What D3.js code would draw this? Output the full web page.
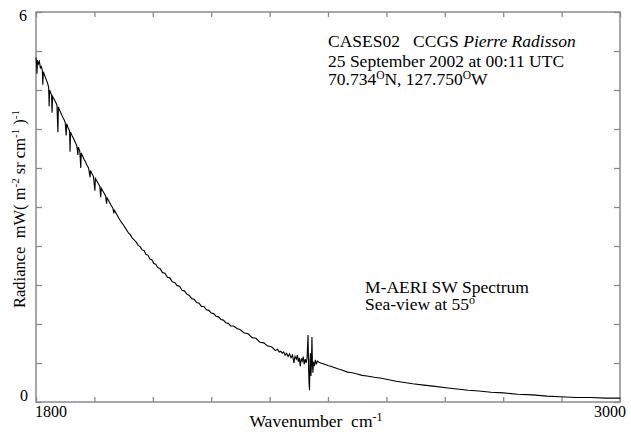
<!DOCTYPE html>
<html>
<head>
<meta charset="utf-8">
<script src="https://cdn.jsdelivr.net/npm/d3@7/dist/d3.min.js"></script>
<style>
  body { margin: 0; background: #fff; }
  text { font-family: "Liberation Serif", "Times New Roman", serif; fill: #000; white-space: pre; }
</style>
</head>
<body>
<div id="chart"></div>
<script>
// spectrum (wavenumber cm-1, radiance mW m-2 sr-1 (cm-1)-1)
var wavenumber = [
  1800,1801,1802,1803,1805,1807,1809,1811,1813,1814,1815,1818,1821,1824,1826,1827,1828,1830,1832,1833,
  1834,1837,1840,1843,1845,1846,1849,1852,1855,1858,1860,1862,1863,1866,1869,1870,1871,1874,1878,1881,
  1884,1886,1887,1890,1892,1893,1896,1899,1902,1905,1908,1911,1912,1915,1918,1921,1922,1925,1928,1931,
  1933,1934,1937,1940,1943,1945,1946,1950,1954,1958,1960,1961,1965,1970,1975,1980,1985,1990,1994,1998,
  2002,2006,2010,2014,2018,2022,2026,2030,2034,2038,2042,2046,2050,2055,2060,2065,2070,2075,2080,2085,
  2090,2095,2100,2105,2110,2115,2120,2125,2130,2135,2140,2145,2150,2155,2160,2165,2170,2175,2180,2185,
  2190,2195,2200,2206,2213,2220,2228,2236,2244,2252,2260,2268,2276,2284,2292,2296,2300,2303,2306,2309,
  2312,2315,2318,2321,2324,2327,2330,2332,2335,2337,2339,2341,2343,2345,2347,2349,2351,2353,2355,2357,
  2359,2360,2361,2362,2363,2364,2365,2366,2367,2368,2369,2370,2372,2374,2376,2378,2380,2385,2390,2400,
  2410,2420,2430,2440,2450,2460,2470,2480,2495,2507,2520,2540,2557,2574,2597,2620,2642,2665,2688,2710,
  2735,2760,2790,2820,2850,2877,2910,2940,2970,3000
];
var radiance = [
  5.30,5.22,5.05,5.26,5.20,5.24,5.14,5.16,5.10,4.88,5.08,5.02,4.96,4.90,4.84,4.55,4.80,4.76,4.72,4.45,
  4.70,4.66,4.62,4.57,4.15,4.54,4.48,4.43,4.38,4.34,4.30,4.10,4.28,4.22,4.17,3.85,4.15,4.10,4.04,3.99,
  3.94,3.80,3.92,3.86,3.60,3.83,3.78,3.73,3.69,3.64,3.60,3.46,3.56,3.51,3.47,3.25,3.44,3.40,3.36,3.32,
  3.15,3.29,3.25,3.21,3.17,3.05,3.14,3.09,3.03,2.98,2.90,2.95,2.90,2.83,2.77,2.72,2.66,2.60,2.57,2.52,
  2.49,2.46,2.41,2.39,2.34,2.33,2.27,2.26,2.20,2.19,2.13,2.12,2.07,2.05,1.99,1.98,1.92,1.91,1.85,1.84,
  1.79,1.78,1.72,1.71,1.66,1.64,1.59,1.58,1.53,1.52,1.47,1.47,1.42,1.41,1.37,1.36,1.32,1.31,1.27,1.26,
  1.22,1.21,1.17,1.17,1.13,1.11,1.06,1.05,0.99,0.98,0.92,0.91,0.86,0.85,0.79,0.81,0.77,0.78,0.75,0.77,
  0.72,0.75,0.70,0.74,0.68,0.72,0.60,0.70,0.66,0.72,0.62,0.68,0.55,0.67,0.63,0.70,0.58,0.66,0.60,0.68,
  1.03,0.55,0.30,0.18,0.65,0.75,0.40,0.62,1.00,0.58,0.45,0.62,0.55,0.65,0.58,0.63,0.62,0.60,0.59,0.56,
  0.54,0.51,0.49,0.46,0.45,0.43,0.41,0.40,0.38,0.37,0.35,0.32,0.30,0.28,0.26,0.24,0.22,0.20,0.18,0.17,
  0.15,0.14,0.12,0.11,0.09,0.08,0.07,0.07,0.06,0.06
];

var xTicks = [1800, 1920, 2040, 2160, 2280, 2400, 2520, 2640, 2760, 2880, 3000];
var yTicks = [0, 0.6, 1.2, 1.8, 2.4, 3.0, 3.6, 4.2, 4.8, 5.4, 6.0];
var xEndLabels = ["1800", "3000"];
var yEndLabels = ["0", "6"];

var margin = {top: 12, right: 11, bottom: 32, left: 36},
    width = 631 - margin.left - margin.right,
    height = 434 - margin.top - margin.bottom;

var x = d3.scaleLinear().domain([1800, 3000]).range([0, width]);
var y = d3.scaleLinear().domain([0, 6]).range([height, 0]);

var svg = d3.select("#chart").append("svg")
    .attr("width", 631)
    .attr("height", 434)
  .append("g")
    .attr("transform", "translate(" + margin.left + "," + margin.top + ")");

var axisColor = "#8a8a8a";

// axes, ticks pointing inward on all four sides
function styleAxis(g) {
  g.select(".domain").remove();
  g.selectAll(".tick line").attr("stroke", axisColor).attr("stroke-width", 1.3);
  g.selectAll(".tick text").remove();
}
svg.append("g").attr("transform", "translate(0," + height + ")")
    .call(d3.axisBottom(x).tickValues(xTicks).tickSize(-5)).call(styleAxis);
svg.append("g")
    .call(d3.axisTop(x).tickValues(xTicks).tickSize(-5)).call(styleAxis);
svg.append("g")
    .call(d3.axisLeft(y).tickValues(yTicks).tickSize(-6)).call(styleAxis);
svg.append("g").attr("transform", "translate(" + width + ",0)")
    .call(d3.axisRight(y).tickValues(yTicks).tickSize(-6)).call(styleAxis);

svg.append("rect")
    .attr("width", width)
    .attr("height", height)
    .attr("fill", "none")
    .attr("stroke", axisColor)
    .attr("stroke-width", 1.5);

// the spectrum
var data = wavenumber.map(function(w, i) { return {w: w, r: radiance[i]}; });
var line = d3.line()
    .x(function(d) { return x(d.w); })
    .y(function(d) { return y(d.r); });
svg.append("path")
    .datum(data)
    .attr("fill", "none")
    .attr("stroke", "#000")
    .attr("stroke-width", 1.1)
    .attr("d", line);

// tick labels at the ends only
svg.append("text").attr("x", x(1800) - 1).attr("y", height + 15)
    .attr("font-size", 16).text(xEndLabels[0]);
svg.append("text").attr("x", x(3000) + 6).attr("y", height + 15)
    .attr("font-size", 16).attr("text-anchor", "end").text(xEndLabels[1]);
svg.append("text").attr("x", -8).attr("y", y(0) - 1)
    .attr("font-size", 16).attr("text-anchor", "end").text(yEndLabels[0]);
svg.append("text").attr("x", -9).attr("y", y(6) + 9)
    .attr("font-size", 16).attr("text-anchor", "end").text(yEndLabels[1]);

// x title
var xt = svg.append("text")
    .attr("x", width / 2 - 12).attr("y", height + 25)
    .attr("font-size", 17.5).attr("text-anchor", "middle");
xt.append("tspan").text("Wavenumber  cm");
xt.append("tspan").attr("font-size", 12).attr("dy", -6).text("-1");

// y title
var yt = svg.append("text")
    .attr("transform", "translate(-11," + (height / 2 + 2) + ") rotate(-90)")
    .attr("font-size", 16.5).attr("text-anchor", "middle");
yt.append("tspan").text("Radiance  mW( m");
yt.append("tspan").attr("font-size", 11).attr("dy", -6).text("-2");
yt.append("tspan").attr("dy", 6).text(" sr cm");
yt.append("tspan").attr("font-size", 11).attr("dy", -6).text("-1");
yt.append("tspan").attr("dy", 6).text(" )");
yt.append("tspan").attr("font-size", 11).attr("dy", -6).text("-1");

// annotation, top right
var ann = svg.append("g").attr("transform", "translate(292,35)");
var l1 = ann.append("text").attr("font-size", 17.5);
l1.append("tspan").text("CASES02   CCGS ");
l1.append("tspan").attr("font-style", "italic").text("Pierre Radisson");
ann.append("text").attr("y", 20).attr("font-size", 17.5).text("25 September 2002 at 00:11 UTC");
var l3 = ann.append("text").attr("y", 38).attr("font-size", 17.5);
l3.append("tspan").text("70.734");
l3.append("tspan").attr("font-size", 11.5).attr("dy", -6).text("O");
l3.append("tspan").attr("dy", 6).text("N, 127.750");
l3.append("tspan").attr("font-size", 11.5).attr("dy", -6).text("O");
l3.append("tspan").attr("dy", 6).text("W");

// annotation, lower right
var ann2 = svg.append("g").attr("transform", "translate(329,281)");
ann2.append("text").attr("font-size", 17.5).text("M-AERI SW Spectrum");
var s2 = ann2.append("text").attr("y", 17).attr("font-size", 17.5);
s2.append("tspan").text("Sea-view at 55");
s2.append("tspan").attr("font-size", 12).attr("dy", -6).text("o");
</script>
</body>
</html>
